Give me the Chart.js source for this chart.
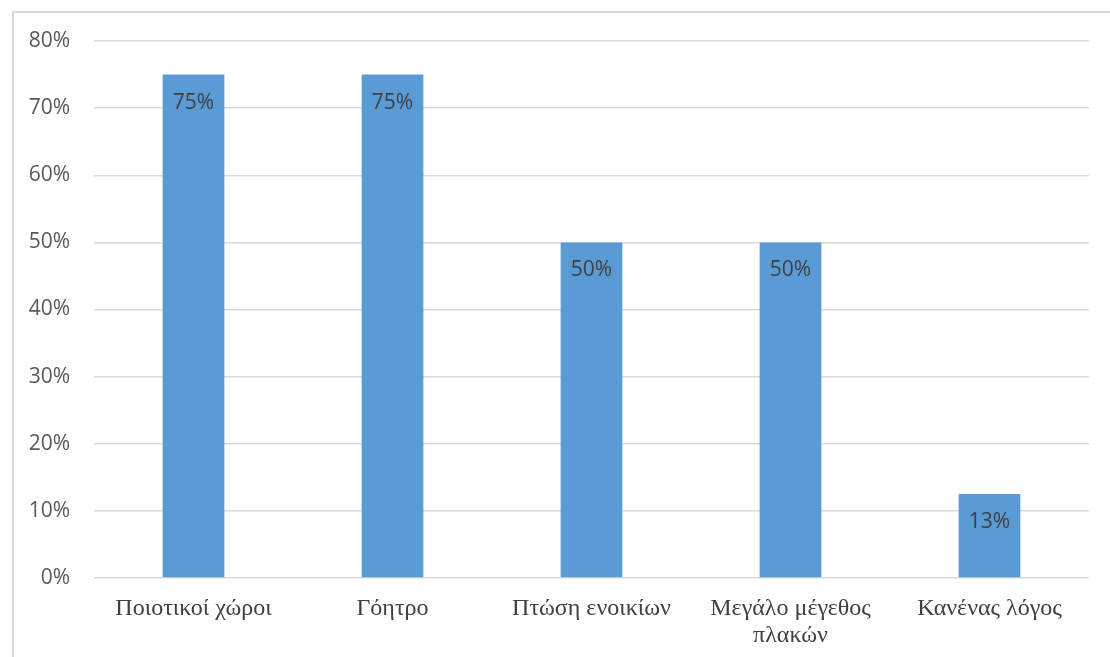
<!DOCTYPE html>
<html>
  <head>
    <meta charset="utf-8">
    <title>Λόγοι επιλογής</title>
    <script src="https://cdn.jsdelivr.net/npm/chart.js@4.4.1/dist/chart.umd.min.js"></script>
    <style>
      body { margin: 0; background: #fff; }
      #wrap { position: relative; width: 1110px; height: 657px; }
      #frame {
        position: absolute; left: 12px; top: 11px; right: 0; bottom: 0;
        border-top: 2px solid #d9d9d9; border-left: 2px solid #d9d9d9;
      }
      #myChart { position: absolute; left: 0; top: 0; }
    </style>
  </head>
  <body>
    <div id="wrap">
      <div id="frame"></div>
      <canvas id="myChart" width="1110" height="657"></canvas>
    </div>
    <script>
      var reasons = ['Ποιοτικοί χώροι', 'Γόητρο', 'Πτώση ενοικίων', ['Μεγάλο μέγεθος', 'πλακών'], 'Κανένας λόγος'];
      var shares = [75, 75, 50, 50, 12.5];
      var yTicks = [0, 10, 20, 30, 40, 50, 60, 70, 80];

      // value labels written inside the top of each bar
      var barLabels = {
        id: 'barLabels',
        afterDatasetsDraw: function(chart) {
          var ctx = chart.ctx;
          var meta = chart.getDatasetMeta(0);
          ctx.save();
          ctx.font = '21px "Open Sans"';
          ctx.fillStyle = '#404040';
          ctx.textAlign = 'center';
          ctx.textBaseline = 'middle';
          meta.data.forEach(function(bar, i) {
            ctx.fillText(Math.round(shares[i]) + '%', bar.x, bar.y + 28);
          });
          ctx.restore();
        }
      };

      var ctx = document.getElementById('myChart').getContext('2d');
      var chart = new Chart(ctx, {
        type: 'bar',
        data: {
          labels: reasons,
          datasets: [{
            data: shares,
            backgroundColor: '#5b9bd5',
            barPercentage: 0.31,
            categoryPercentage: 1
          }]
        },
        options: {
          responsive: false,
          animation: false,
          layout: { padding: { left: 0, right: 21, top: 41, bottom: 0 } },
          plugins: { legend: { display: false }, tooltip: { enabled: false } },
          scales: {
            x: {
              grid: { display: false },
              border: { display: false },
              ticks: {
                color: '#404040',
                font: { family: '"Liberation Serif"', size: 24, lineHeight: 1.1 },
                padding: 10,
                maxRotation: 0
              },
              afterFit: function(scale) { scale.height = 79; }
            },
            y: {
              min: 0,
              max: 80,
              afterBuildTicks: function(scale) {
                scale.ticks = yTicks.map(function(v) { return { value: v }; });
              },
              grid: { color: '#d9d9d9', lineWidth: 1.5, drawTicks: false },
              border: { display: false },
              ticks: {
                color: '#595959',
                font: { family: '"Open Sans"', size: 21 },
                padding: 24,
                callback: function(v) { return v + '%'; }
              },
              afterFit: function(scale) { scale.width = 94; }
            }
          }
        },
        plugins: [barLabels]
      });
    </script>
  </body>
</html>
